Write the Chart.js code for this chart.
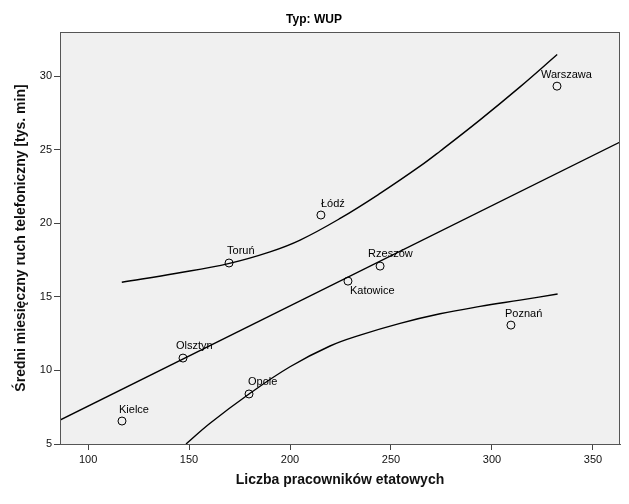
<!DOCTYPE html>
<html>
<head>
<meta charset="utf-8">
<script src="https://cdn.jsdelivr.net/npm/chart.js@4/dist/chart.umd.min.js"></script>
<style>
  html, body { margin: 0; padding: 0; background: #ffffff; }
  #wrap { width: 629px; height: 504px; }
</style>
</head>
<body>
<div id="wrap"><canvas id="c" width="629" height="504"></canvas></div>
<script>
// ---- Data ----
const cities   = ["Kielce", "Olsztyn", "Opole", "Toruń", "Łódź", "Katowice", "Rzeszów", "Poznań", "Warszawa"];
const staff    = [116.8, 147.0, 179.7, 169.8, 215.3, 228.7, 244.6, 309.4, 332.2];
const traffic  = [6.56, 10.84, 8.40, 17.30, 20.56, 16.07, 17.09, 13.08, 29.32];

// regression line (fit line) endpoints as read at the plot edges
const fitX = [86.1, 363.4];
const fitY = [6.63, 25.52];

// upper 95% CI curve
const upperX = [116.7, 143.9, 170.0, 190.1, 205.0, 224.8, 244.6, 264.4, 274.3, 294.1, 313.9, 332.3];
const upperY = [15.99, 16.60, 17.28, 18.06, 18.86, 20.33, 22.03, 23.88, 24.90, 27.03, 29.27, 31.47];

// lower 95% CI curve
const lowerX = [148.5, 160.4, 179.7, 200.0, 219.8, 234.7, 254.5, 274.3, 294.1, 313.9, 332.5];
const lowerY = [5.00, 6.41, 8.40, 10.25, 11.66, 12.40, 13.20, 13.85, 14.35, 14.78, 15.19];

const xTicks = [100, 150, 200, 250, 300, 350];
const yTicks = [5, 10, 15, 20, 25, 30];

const chartTitle = "Typ: WUP";
const xTitle = "Liczba pracowników etatowych";
const yTitle = "Średni miesięczny ruch telefoniczny [tys. min]";

// label placement (style only): [dx of text left edge, dy of text centre] in px
const labelOffsets = [[-3, -11], [-7, -12], [-1, -12], [-2, -12], [0, -11], [2, 10], [-12, -12], [-6, -11], [-16, -11]];

// ---- Build ----
const pts = staff.map((x, i) => ({ x: x, y: traffic[i] }));
const toXY = (xs, ys) => xs.map((x, i) => ({ x: x, y: ys[i] }));

const FONT = "'Liberation Sans', Arial, sans-serif";

const decor = {
  id: 'decor',
  beforeDraw(chart) {
    const { ctx, chartArea: a } = chart;
    ctx.save();
    ctx.fillStyle = '#ffffff';
    ctx.fillRect(0, 0, chart.width, chart.height);
    ctx.fillStyle = '#f0f0f0';
    ctx.fillRect(a.left, a.top, a.right - a.left, a.bottom - a.top);
    ctx.restore();
  },
  afterDatasetsDraw(chart) {
    const { ctx, chartArea: a, scales } = chart;
    ctx.save();
    ctx.strokeStyle = '#555555';
    ctx.lineWidth = 1;
    ctx.strokeRect(a.left + 0.5, a.top + 0.5, a.right - a.left - 1, a.bottom - a.top);
    // point labels
    ctx.fillStyle = '#000000';
    ctx.font = '11px ' + FONT;
    ctx.textAlign = 'left';
    ctx.textBaseline = 'middle';
    cities.forEach((name, i) => {
      const px = scales.x.getPixelForValue(staff[i]);
      const py = scales.y.getPixelForValue(traffic[i]);
      const o = labelOffsets[i];
      ctx.fillText(name, px + o[0], py + o[1]);
    });
    // chart title
    ctx.font = 'bold 12px ' + FONT;
    ctx.textAlign = 'center';
    ctx.fillText(chartTitle, 314, 20);
    ctx.restore();
  }
};

new Chart(document.getElementById('c'), {
  type: 'scatter',
  data: {
    datasets: [
      {
        label: 'points',
        data: pts,
        showLine: false,
        pointStyle: 'circle',
        pointRadius: 4,
        pointBorderWidth: 1,
        pointBorderColor: '#000000',
        pointBackgroundColor: 'rgba(0,0,0,0)',
        borderColor: '#000000'
      },
      {
        label: 'fit',
        data: toXY(fitX, fitY),
        showLine: true,
        borderColor: '#000000',
        borderWidth: 1.4,
        pointRadius: 0,
        tension: 0
      },
      {
        label: 'upper',
        data: toXY(upperX, upperY),
        showLine: true,
        borderColor: '#000000',
        borderWidth: 1.4,
        pointRadius: 0,
        tension: 0.4
      },
      {
        label: 'lower',
        data: toXY(lowerX, lowerY),
        showLine: true,
        borderColor: '#000000',
        borderWidth: 1.4,
        pointRadius: 0,
        tension: 0.4
      }
    ]
  },
  options: {
    responsive: false,
    animation: false,
    devicePixelRatio: 1,
    layout: { padding: { top: 32, right: 9, bottom: 0, left: 0 } },
    plugins: {
      legend: { display: false },
      tooltip: { enabled: false },
      title: { display: false }
    },
    scales: {
      x: {
        type: 'linear',
        min: 86.1,
        max: 363.4,
        afterFit(s) { s.height = 60; },
        afterBuildTicks(s) { s.ticks = xTicks.map(v => ({ value: v })); },
        grid: { drawOnChartArea: false, tickLength: 6, color: '#444444', tickColor: '#444444' },
        border: { display: true, color: '#555555' },
        ticks: { color: '#111111', font: { family: FONT, size: 11 }, padding: 3, maxRotation: 0 },
        title: {
          display: true, text: xTitle, color: '#111111',
          font: { family: FONT, size: 14, weight: 'bold' },
          padding: { top: 0, bottom: 15 }
        }
      },
      y: {
        type: 'linear',
        min: 5,
        max: 33,
        afterFit(s) { s.width = 60; },
        afterBuildTicks(s) { s.ticks = yTicks.map(v => ({ value: v })); },
        grid: { drawOnChartArea: false, tickLength: 6, color: '#444444', tickColor: '#444444' },
        border: { display: true, color: '#555555' },
        ticks: { color: '#111111', font: { family: FONT, size: 11 }, padding: 2 },
        title: {
          display: true, text: yTitle, color: '#111111',
          font: { family: FONT, size: 14, weight: 'bold' },
          padding: { top: 13, bottom: 0 }
        }
      }
    }
  },
  plugins: [decor]
});
</script>
</body>
</html>
